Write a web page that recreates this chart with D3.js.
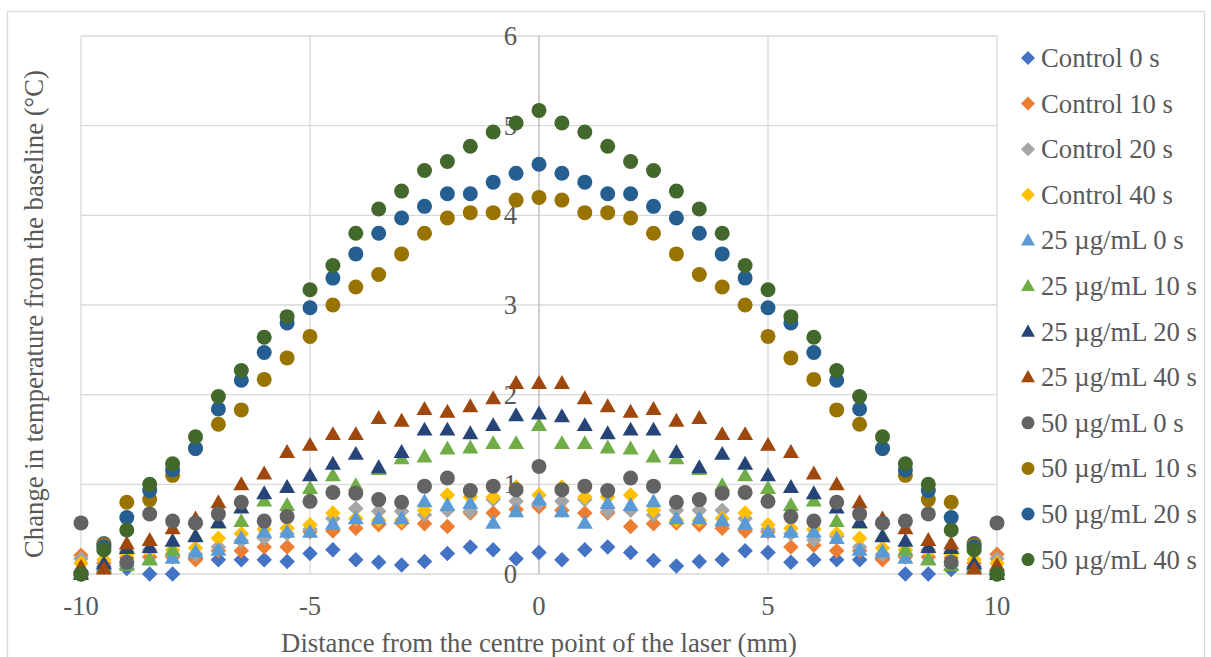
<!DOCTYPE html>
<html>
<head>
<meta charset="utf-8">
<script src="https://cdn.jsdelivr.net/npm/d3@7"></script>
<style>
  html, body { margin: 0; padding: 0; background: #ffffff; }
  svg { display: block; }
  text { font-family: "Liberation Serif", "Times New Roman", serif; fill: #595959; }
</style>
</head>
<body>
<svg id="chart" width="1211" height="657"></svg>
<script>
// Distance from the laser centre point (mm)
const distances = [-10, -9.5, -9, -8.5, -8, -7.5, -7, -6.5, -6, -5.5, -5, -4.5, -4, -3.5, -3, -2.5, -2, -1.5, -1, -0.5,
  0, 0.5, 1, 1.5, 2, 2.5, 3, 3.5, 4, 4.5, 5, 5.5, 6, 6.5, 7, 7.5, 8, 8.5, 9, 9.5, 10];

// Temperature change from baseline (°C) for each series
const control0 = [0.03, 0.08, 0.06, 0.00, 0.00, 0.17, 0.16, 0.16, 0.16, 0.14, 0.23, 0.27, 0.16, 0.13, 0.10, 0.14, 0.23, 0.30, 0.27, 0.17,
  0.24, 0.16, 0.27, 0.30, 0.24, 0.15, 0.09, 0.14, 0.16, 0.26, 0.24, 0.13, 0.16, 0.16, 0.16, 0.17, 0.00, 0.00, 0.05, 0.08, 0.03];
const control10 = [0.21, 0.12, 0.18, 0.19, 0.19, 0.16, 0.26, 0.26, 0.30, 0.30, 0.47, 0.48, 0.51, 0.55, 0.57, 0.56, 0.53, 0.68, 0.68, 0.72,
  0.75, 0.71, 0.68, 0.68, 0.53, 0.56, 0.57, 0.55, 0.51, 0.48, 0.47, 0.30, 0.32, 0.26, 0.26, 0.16, 0.19, 0.19, 0.18, 0.12, 0.22];
const control20 = [0.17, 0.25, 0.25, 0.27, 0.22, 0.22, 0.30, 0.37, 0.40, 0.45, 0.50, 0.62, 0.73, 0.70, 0.70, 0.66, 0.71, 0.70, 0.83, 0.81,
  0.79, 0.81, 0.83, 0.70, 0.71, 0.66, 0.71, 0.71, 0.71, 0.62, 0.50, 0.45, 0.38, 0.42, 0.30, 0.22, 0.22, 0.27, 0.25, 0.25, 0.17];
const control40 = [0.12, 0.16, 0.22, 0.25, 0.27, 0.29, 0.40, 0.45, 0.50, 0.51, 0.55, 0.68, 0.62, 0.60, 0.60, 0.71, 0.88, 0.86, 0.86, 0.97,
  0.88, 0.97, 0.86, 0.86, 0.88, 0.71, 0.60, 0.60, 0.62, 0.68, 0.55, 0.51, 0.50, 0.45, 0.40, 0.29, 0.27, 0.25, 0.22, 0.16, 0.12];
const conc25s0 = [0.05, 0.10, 0.15, 0.17, 0.18, 0.25, 0.27, 0.40, 0.47, 0.47, 0.47, 0.56, 0.62, 0.62, 0.62, 0.81, 0.77, 0.79, 0.57, 0.70,
  0.83, 0.70, 0.57, 0.79, 0.77, 0.81, 0.62, 0.62, 0.60, 0.56, 0.47, 0.47, 0.47, 0.40, 0.27, 0.25, 0.18, 0.17, 0.15, 0.10, 0.05];
const conc25s10 = [0.02, 0.08, 0.10, 0.16, 0.27, 0.43, 0.57, 0.59, 0.82, 0.77, 0.96, 1.10, 0.99, 1.17, 1.29, 1.31, 1.40, 1.41, 1.46, 1.46,
  1.66, 1.46, 1.46, 1.41, 1.40, 1.31, 1.29, 1.17, 0.99, 1.10, 0.96, 0.77, 0.82, 0.59, 0.57, 0.43, 0.27, 0.16, 0.10, 0.08, 0.02];
const conc25s20 = [0.00, 0.12, 0.29, 0.30, 0.37, 0.42, 0.58, 0.74, 0.90, 0.97, 1.10, 1.23, 1.34, 1.19, 1.36, 1.61, 1.61, 1.57, 1.66, 1.77,
  1.79, 1.76, 1.66, 1.57, 1.61, 1.61, 1.36, 1.19, 1.34, 1.23, 1.10, 0.97, 0.90, 0.74, 0.58, 0.42, 0.37, 0.30, 0.29, 0.12, 0.00];
const conc25s40 = [0.08, 0.06, 0.34, 0.38, 0.51, 0.62, 0.80, 1.00, 1.12, 1.36, 1.44, 1.56, 1.56, 1.74, 1.71, 1.84, 1.81, 1.87, 1.96, 2.13,
  2.13, 2.13, 1.96, 1.87, 1.81, 1.84, 1.71, 1.74, 1.56, 1.56, 1.44, 1.36, 1.12, 1.00, 0.80, 0.62, 0.51, 0.38, 0.34, 0.06, 0.10];
const conc50s0 = [0.57, 0.34, 0.13, 0.67, 0.59, 0.57, 0.67, 0.80, 0.59, 0.64, 0.81, 0.91, 0.90, 0.83, 0.80, 0.98, 1.07, 0.93, 0.98, 0.94,
  1.20, 0.94, 0.98, 0.93, 1.07, 0.98, 0.80, 0.83, 0.90, 0.91, 0.81, 0.64, 0.59, 0.80, 0.67, 0.57, 0.59, 0.67, 0.13, 0.34, 0.57];
const conc50s10 = [0.00, 0.32, 0.80, 0.83, 1.10, 1.40, 1.67, 1.83, 2.17, 2.41, 2.65, 3.00, 3.20, 3.34, 3.57, 3.80, 3.97, 4.03, 4.03, 4.17,
  4.20, 4.17, 4.03, 4.03, 3.97, 3.80, 3.57, 3.34, 3.20, 3.00, 2.65, 2.41, 2.17, 1.83, 1.67, 1.40, 1.10, 0.83, 0.80, 0.32, 0.00];
const conc50s20 = [0.00, 0.30, 0.63, 0.93, 1.16, 1.40, 1.84, 2.16, 2.47, 2.80, 2.97, 3.30, 3.57, 3.80, 3.97, 4.10, 4.24, 4.24, 4.37, 4.47,
  4.57, 4.47, 4.37, 4.24, 4.24, 4.10, 3.97, 3.80, 3.57, 3.30, 2.97, 2.80, 2.47, 2.16, 1.84, 1.40, 1.16, 0.93, 0.63, 0.30, 0.00];
const conc50s40 = [0.00, 0.27, 0.49, 1.00, 1.23, 1.53, 1.98, 2.27, 2.64, 2.87, 3.17, 3.44, 3.80, 4.07, 4.27, 4.50, 4.60, 4.77, 4.93, 5.03,
  5.17, 5.03, 4.93, 4.77, 4.60, 4.50, 4.27, 4.07, 3.80, 3.44, 3.17, 2.87, 2.64, 2.27, 1.98, 1.53, 1.23, 1.00, 0.49, 0.27, 0.00];

const seriesNames = ["Control 0 s", "Control 10 s", "Control 20 s", "Control 40 s",
  "25 µg/mL 0 s", "25 µg/mL 10 s", "25 µg/mL 20 s", "25 µg/mL 40 s",
  "50 µg/mL 0 s", "50 µg/mL 10 s", "50 µg/mL 20 s", "50 µg/mL 40 s"];
const seriesValues = [control0, control10, control20, control40,
  conc25s0, conc25s10, conc25s20, conc25s40,
  conc50s0, conc50s10, conc50s20, conc50s40];
const seriesColors = ["#4472C4", "#ED7D31", "#A5A5A5", "#FFC000",
  "#5B9BD5", "#70AD47", "#264478", "#9E480E",
  "#636363", "#997300", "#255E91", "#43682B"];
const seriesShapes = ["diamond", "diamond", "diamond", "diamond",
  "triangle", "triangle", "triangle", "triangle",
  "circle", "circle", "circle", "circle"];

const xTicks = [-10, -5, 0, 5, 10];
const yTicks = [0, 1, 2, 3, 4, 5, 6];

const xTitle = "Distance from the centre point of the laser (mm)";
const yTitle = "Change in temperature from the baseline (°C)";

// ---- layout ----
const W = 1211, H = 657;
const plot = { left: 81, right: 997, top: 36, bottom: 574 };
const FONT = 26.7;

const svg = d3.select("#chart");

const x = d3.scaleLinear().domain([-10, 10]).range([plot.left, plot.right]);
const y = d3.scaleLinear().domain([0, 6]).range([plot.bottom, plot.top]);

// chart frame
svg.append("rect")
  .attr("x", 7.5).attr("y", 11.5)
  .attr("width", 1197).attr("height", 680)
  .attr("fill", "#ffffff")
  .attr("stroke", "#d9d9d9").attr("stroke-width", 1.3);

// gridlines
const grid = svg.append("g");
grid.selectAll("line.h").data(yTicks).join("line")
  .attr("class", "h")
  .attr("x1", plot.left).attr("x2", plot.right)
  .attr("y1", d => y(d)).attr("y2", d => y(d))
  .attr("stroke", "#d9d9d9").attr("stroke-width", 1.3);
grid.selectAll("line.v").data(xTicks.filter(d => d !== 0)).join("line")
  .attr("class", "v")
  .attr("x1", d => x(d)).attr("x2", d => x(d))
  .attr("y1", plot.top).attr("y2", plot.bottom)
  .attr("stroke", "#d9d9d9").attr("stroke-width", 1.3);

// vertical value axis crossing at x = 0
svg.append("line")
  .attr("x1", x(0)).attr("x2", x(0))
  .attr("y1", plot.top).attr("y2", plot.bottom)
  .attr("stroke", "#bfbfbf").attr("stroke-width", 1.5);

// y tick labels (to the left of the zero axis)
svg.append("g").selectAll("text").data(yTicks).join("text")
  .attr("x", x(0) - 22)
  .attr("y", d => y(d) + 9)
  .attr("text-anchor", "end")
  .attr("font-size", FONT)
  .text(d => d);

// x tick labels
svg.append("g").selectAll("text").data(xTicks).join("text")
  .attr("x", d => x(d))
  .attr("y", 615)
  .attr("text-anchor", "middle")
  .attr("font-size", FONT)
  .text(d => d < 0 ? "-" + Math.abs(d) : d);

// axis titles
svg.append("text")
  .attr("x", (plot.left + plot.right) / 2)
  .attr("y", 652)
  .attr("text-anchor", "middle")
  .attr("font-size", FONT)
  .text(xTitle);

svg.append("text")
  .attr("transform", `translate(43,314) rotate(-90)`)
  .attr("text-anchor", "middle")
  .attr("font-size", FONT)
  .text(yTitle);

// marker shapes centred on (0,0)
function markerPath(shape, s) {
  const h = s / 2;
  if (shape === "diamond") return `M0,${-h}L${h},0L0,${h}L${-h},0Z`;
  if (shape === "triangle") {
    const th = s * 0.87;
    return `M0,${-th / 2 - 1}L${h},${th / 2 - 1}L${-h},${th / 2 - 1}Z`;
  }
  return null;
}

function drawMarker(sel, shape, color, size) {
  if (shape === "circle") {
    sel.append("circle").attr("r", size / 2).attr("fill", color);
  } else {
    sel.append("path").attr("d", markerPath(shape, size)).attr("fill", color);
  }
}

// series points, drawn in series order
const pointsLayer = svg.append("g");
seriesValues.forEach((vals, si) => {
  const g = pointsLayer.append("g");
  const pts = g.selectAll("g").data(vals.map((v, i) => ({ x: distances[i], y: v })))
    .join("g")
    .attr("transform", d => `translate(${x(d.x)},${y(d.y)})`);
  const size = seriesShapes[si] === "circle" ? 15 : (seriesShapes[si] === "diamond" ? 15.5 : 16);
  pts.each(function () { drawMarker(d3.select(this), seriesShapes[si], seriesColors[si], size); });
});

// legend
const legend = svg.append("g");
const legendItems = legend.selectAll("g").data(seriesNames).join("g")
  .attr("transform", (d, i) => `translate(1028,${58 + i * 45.6})`);
legendItems.each(function (d, i) {
  const sz = seriesShapes[i] === "circle" ? 13 : 14;
  drawMarker(d3.select(this), seriesShapes[i], seriesColors[i], sz);
});
legendItems.append("text")
  .attr("x", 13)
  .attr("y", 9)
  .attr("font-size", FONT)
  .text(d => d);
</script>
</body>
</html>
